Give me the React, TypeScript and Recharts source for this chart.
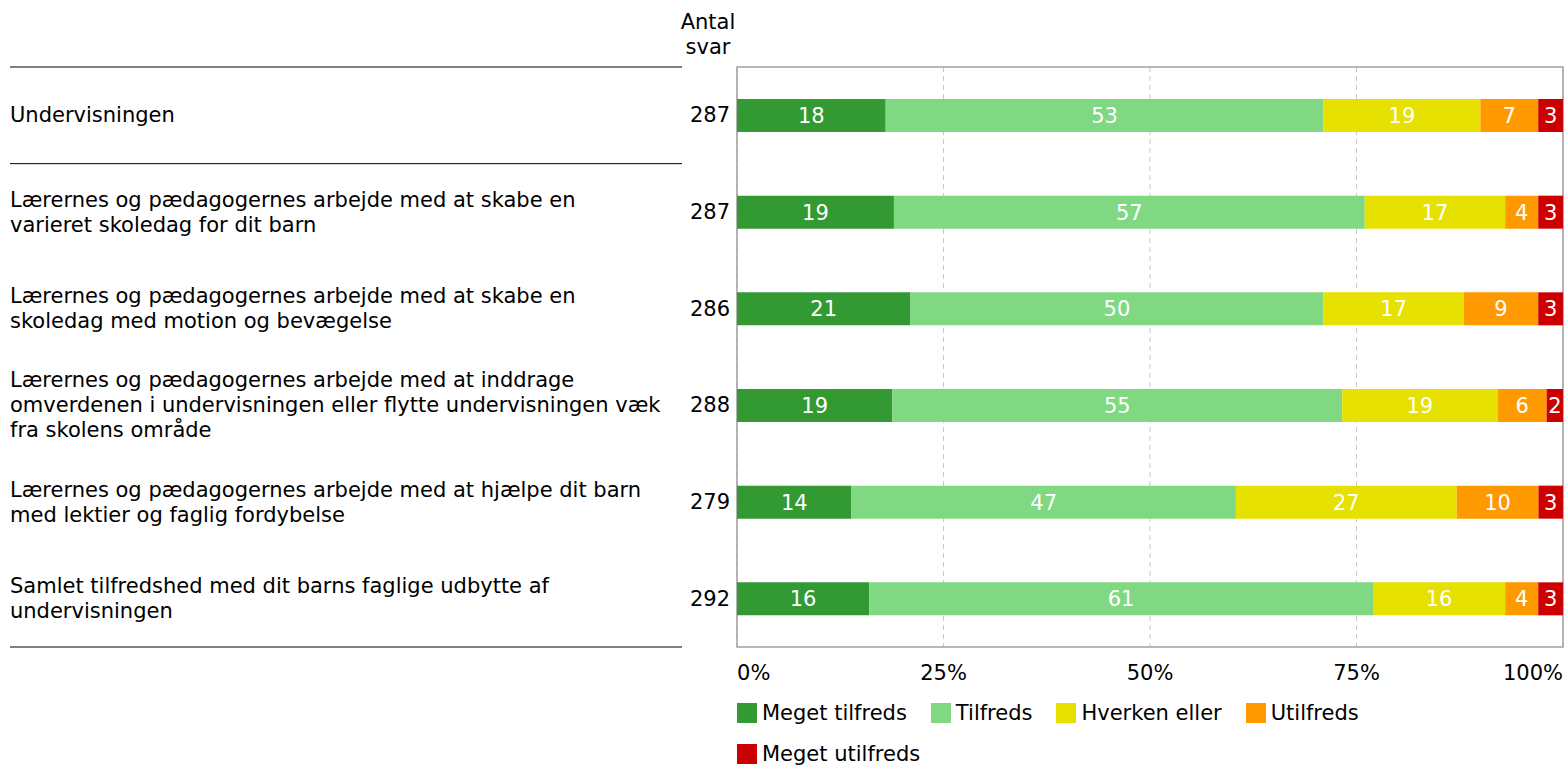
import React from "react";
import {
  BarChart,
  Bar,
  XAxis,
  YAxis,
  CartesianGrid,
  LabelList,
  Legend,
  ReferenceArea,
} from "recharts";

const categories = [
  "Undervisningen",
  "Lærernes og pædagogernes arbejde med at skabe en\nvarieret skoledag for dit barn",
  "Lærernes og pædagogernes arbejde med at skabe en\nskoledag med motion og bevægelse",
  "Lærernes og pædagogernes arbejde med at inddrage\nomverdenen i undervisningen eller flytte undervisningen væk\nfra skolens område",
  "Lærernes og pædagogernes arbejde med at hjælpe dit barn\nmed lektier og faglig fordybelse",
  "Samlet tilfredshed med dit barns faglige udbytte af\nundervisningen",
];
const counts = [287, 287, 286, 288, 279, 292];

const megetTilfreds = [18, 19, 21, 19, 14, 16];
const tilfreds = [53, 57, 50, 55, 47, 61];
const hverken = [19, 17, 17, 19, 27, 16];
const utilfreds = [7, 4, 9, 6, 10, 4];
const megetUtilfreds = [3, 3, 3, 2, 3, 3];

const xTicks = [0, 0.25, 0.5, 0.75, 1];

const series = [
  { key: "mt", name: "Meget tilfreds", color: "#339933" },
  { key: "t", name: "Tilfreds", color: "#80D883" },
  { key: "h", name: "Hverken eller", color: "#E6E100" },
  { key: "u", name: "Utilfreds", color: "#FF9900" },
  { key: "mu", name: "Meget utilfreds", color: "#CC0000" },
];

const data = categories.map((label, i) => ({
  label,
  count: counts[i],
  mt: megetTilfreds[i],
  t: tilfreds[i],
  h: hverken[i],
  u: utilfreds[i],
  mu: megetUtilfreds[i],
}));

const W = 1558;
const H = 757;
const Y_AXIS_W = 729;
const X_AXIS_H = 30;
const MARGIN = { top: 59, right: 3, bottom: 118 - X_AXIS_H, left: 0 };
const BAND = (H - MARGIN.top - MARGIN.bottom - X_AXIS_H) / categories.length;
const FONT = "'DejaVu Sans', Verdana, sans-serif";
const FS = 21;

function CategoryTick(props: any) {
  const { y, payload, index } = props;
  const lines: string[] = String(payload.value).split("\n");
  const lh = 25;
  const y0 = y - ((lines.length - 1) * lh) / 2;
  const half = BAND / 2;
  return (
    <g>
      {lines.map((ln, i) => (
        <text
          key={i}
          x={2}
          y={y0 + i * lh}
          dominantBaseline="central"
          fontSize={FS}
          fontFamily={FONT}
          fill="#000"
        >
          {ln}
        </text>
      ))}
      <text
        x={722}
        y={y}
        textAnchor="end"
        dominantBaseline="central"
        fontSize={FS}
        fontFamily={FONT}
        fill="#000"
      >
        {counts[index]}
      </text>
      {index === 0 && (
        <>
          <line x1={2} x2={674} y1={y - half} y2={y - half} stroke="#000" strokeWidth={1} />
          <line x1={2} x2={674} y1={y + half} y2={y + half} stroke="#000" strokeWidth={1} />
        </>
      )}
      {index === categories.length - 1 && (
        <line x1={2} x2={674} y1={y + half} y2={y + half} stroke="#000" strokeWidth={1} />
      )}
    </g>
  );
}

function PercentTick(props: any) {
  const { x, y, payload } = props;
  const v = payload.value;
  const anchor = v === 0 ? "start" : v === 1 ? "end" : "middle";
  return (
    <text
      x={x}
      y={y}
      textAnchor={anchor}
      dominantBaseline="central"
      fontSize={FS}
      fontFamily={FONT}
      fill="#000"
    >
      {Math.round(v * 100)}%
    </text>
  );
}

function LegendContent() {
  return (
    <div
      style={{
        display: "flex",
        flexWrap: "wrap",
        width: 660,
        rowGap: 21,
        fontFamily: FONT,
        fontSize: FS,
        color: "#000",
      }}
    >
      {series.map((s) => (
        <div
          key={s.key}
          style={{ display: "flex", alignItems: "center", marginRight: 24, height: 20 }}
        >
          <span
            style={{
              display: "inline-block",
              width: 20,
              height: 20,
              background: s.color,
              marginRight: 5,
            }}
          />
          <span style={{ whiteSpace: "nowrap" }}>{s.name}</span>
        </div>
      ))}
    </div>
  );
}

export default function App() {
  return (
    <div style={{ width: 1566, height: 765, padding: 8, boxSizing: "border-box", overflow: "hidden" }}>
      <style>{"body { margin: 0; }"}</style>
      <div style={{ position: "relative", width: W, height: H }}>
        <div
          style={{
            position: "absolute",
            left: 640,
            top: 2,
            width: 120,
            textAlign: "center",
            fontFamily: FONT,
            fontSize: FS,
            lineHeight: "25px",
            color: "#000",
          }}
        >
          Antal
          <br />
          svar
        </div>
        <BarChart
          width={W}
          height={H}
          data={data}
          layout="vertical"
          stackOffset="expand"
          margin={MARGIN}
        >
          <CartesianGrid
            horizontal={false}
            stroke="#C8C8C8"
            strokeDasharray="5 4"
          />
          <XAxis
            type="number"
            domain={[0, 1]}
            ticks={xTicks}
            height={X_AXIS_H}
            axisLine={false}
            tickLine={false}
            tickSize={0}
            tickMargin={26}
            tick={<PercentTick />}
            interval={0}
          />
          <YAxis
            type="category"
            dataKey="label"
            width={Y_AXIS_W}
            axisLine={false}
            tickLine={false}
            tick={<CategoryTick />}
            interval={0}
          />
          {series.map((s) => (
            <Bar
              key={s.key}
              dataKey={s.key}
              name={s.name}
              stackId="a"
              fill={s.color}
              barSize={33}
              isAnimationActive={false}
            >
              <LabelList
                dataKey={s.key}
                position="center"
                fill="#fff"
                fontSize={FS}
                fontFamily={FONT}
              />
            </Bar>
          ))}
          <ReferenceArea
            x1={0}
            x2={1}
            fill="none"
            stroke="#A0A0A0"
            strokeWidth={1.5}
            ifOverflow="visible"
          />
          <Legend
            layout="vertical"
            align="center"
            verticalAlign="middle"
            content={<LegendContent />}
            wrapperStyle={{ position: "absolute", left: 729, top: 695, width: 700 }}
          />
        </BarChart>
      </div>
    </div>
  );
}
